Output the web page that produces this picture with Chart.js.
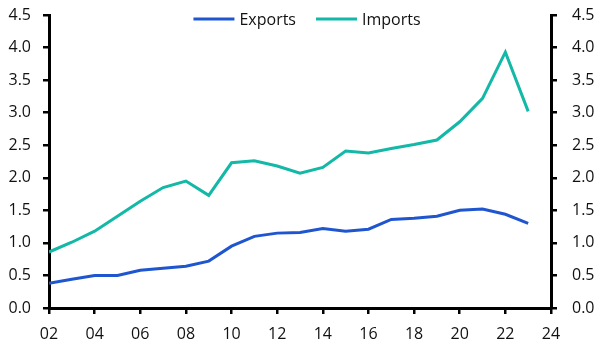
<!DOCTYPE html>
<html>
<head>
<meta charset="utf-8">
<script src="https://cdn.jsdelivr.net/npm/chart.js@4"></script>
<style>
html,body{margin:0;padding:0;background:#fff;}
#wrap{width:606px;height:355px;position:relative;}
</style>
</head>
<body>
<div id="wrap"><canvas id="c" width="606" height="355"></canvas></div>
<script>
const years = [2002,2003,2004,2005,2006,2007,2008,2009,2010,2011,2012,2013,2014,2015,2016,2017,2018,2019,2020,2021,2022,2023];
const exportsVals = [0.38,0.44,0.50,0.50,0.58,0.61,0.64,0.72,0.95,1.10,1.15,1.16,1.22,1.18,1.21,1.36,1.38,1.41,1.50,1.52,1.44,1.30];
const importsVals = [0.86,1.01,1.18,1.41,1.64,1.85,1.95,1.73,2.23,2.26,2.18,2.07,2.16,2.41,2.38,2.45,2.51,2.58,2.86,3.22,3.93,3.02];
const seriesNames = ['Exports','Imports'];
const seriesColors = ['#1f56d0','#13b8a6'];
const xMin = 2002, xMax = 2024, xStep = 2;
const yMin = 0, yMax = 4.5, yStep = 0.5;

const FONT = "'Open Sans', 'Noto Sans', sans-serif";

const legendPlugin = {
  id: 'customLegend',
  afterDraw(chart) {
    const ctx = chart.ctx;
    ctx.save();
    ctx.font = '16px ' + FONT;
    ctx.textBaseline = 'middle';
    const lineLen = 41, gap = 5, between = 20;
    const items = chart.data.datasets.map(d => ({label: d.label, color: d.borderColor, w: ctx.measureText(d.label).width}));
    let total = 0;
    items.forEach((it, i) => { total += lineLen + gap + it.w + (i ? between : 0); });
    let x = 307 - total / 2;
    const y = 19;
    items.forEach((it, i) => {
      if (i) x += between;
      ctx.strokeStyle = it.color;
      ctx.lineWidth = 3;
      ctx.beginPath();
      ctx.moveTo(x, y);
      ctx.lineTo(x + lineLen, y);
      ctx.stroke();
      x += lineLen + gap;
      ctx.fillStyle = '#111';
      ctx.fillText(it.label, x, y + 1);
      x += it.w;
    });
    ctx.restore();
  }
};

const axisCommon = {
  border: {display: true, color: '#000', width: 3},
  grid: {display: true, drawOnChartArea: false, drawTicks: true, tickLength: 6, color: '#000', lineWidth: 2.5},
};

function fixY(w) {
  return s => { s.width = w; s.paddingTop = 0; s.paddingBottom = 0; };
}

new Chart(document.getElementById('c'), {
  type: 'line',
  data: {
    datasets: [
      {label: seriesNames[0], data: years.map((y, i) => ({x: y, y: exportsVals[i]})), borderColor: seriesColors[0], backgroundColor: seriesColors[0], borderWidth: 3, pointRadius: 0, tension: 0, yAxisID: 'y'},
      {label: seriesNames[1], data: years.map((y, i) => ({x: y, y: importsVals[i]})), borderColor: seriesColors[1], backgroundColor: seriesColors[1], borderWidth: 3, pointRadius: 0, tension: 0, yAxisID: 'y'}
    ]
  },
  options: {
    responsive: false,
    animation: false,
    devicePixelRatio: 1,
    layout: {padding: {top: 15, left: 0, right: 0, bottom: 0}},
    plugins: {legend: {display: false}, tooltip: {enabled: false}},
    scales: {
      x: {
        type: 'linear', min: xMin, max: xMax,
        ...axisCommon,
        ticks: {stepSize: xStep, color: '#111', font: {family: FONT, size: 16}, padding: 11, maxRotation: 0,
          callback: v => String(v % 100).padStart(2, '0')},
        afterFit: s => { s.height = 47; s.paddingLeft = 0; s.paddingRight = 0; }
      },
      y: {
        position: 'left', min: yMin, max: yMax,
        ...axisCommon,
        ticks: {stepSize: yStep, color: '#111', font: {family: FONT, size: 16}, padding: 12, callback: v => v.toFixed(1)},
        afterFit: fixY(49)
      },
      y2: {
        position: 'right', min: yMin, max: yMax,
        ...axisCommon,
        ticks: {stepSize: yStep, color: '#111', font: {family: FONT, size: 16}, padding: 15, callback: v => v.toFixed(1)},
        afterFit: fixY(55)
      }
    }
  },
  plugins: [legendPlugin]
});
</script>
</body>
</html>
